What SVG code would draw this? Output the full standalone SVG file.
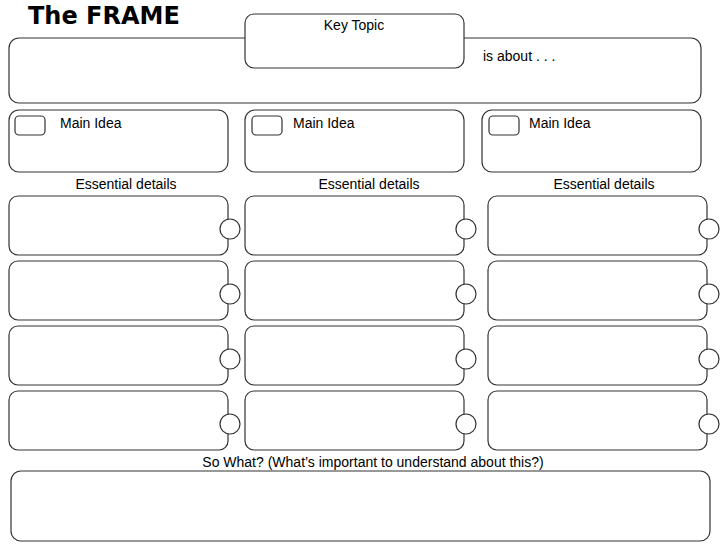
<svg xmlns="http://www.w3.org/2000/svg" width="728" height="546" viewBox="0 0 728 546">
<style>
.b{fill:#fff;stroke:#333;stroke-width:1.2}
.t{font-family:"Liberation Sans",Arial,sans-serif;font-size:14px;fill:#000}
.c{fill:#fff;stroke:#333;stroke-width:1.2}
</style>
<defs>
<g id="det"><rect class="b" x="0" y="0" width="219" height="59" rx="9"/><circle class="c" cx="221" cy="33" r="10"/></g>
</defs>
<rect width="728" height="546" fill="#fff"/>
<text x="28" y="24" font-family="'DejaVu Sans','Liberation Sans',sans-serif" font-weight="bold" font-size="24">The FRAME</text>
<g id="about"><rect class="b" x="9" y="38" width="692" height="65" rx="10"/><text class="t" x="483" y="61">is about . . .</text></g>
<g id="key"><rect class="b" x="245" y="14" width="219" height="54" rx="9"/><text class="t" x="354" y="30" text-anchor="middle">Key Topic</text></g>
<g id="main1"><rect class="b" x="9" y="110" width="219" height="62" rx="10"/><rect class="b" x="15" y="116" width="30" height="19" rx="4"/><text class="t" x="60" y="128">Main Idea</text></g>
<g id="main2"><rect class="b" x="245" y="110" width="219" height="62" rx="10"/><rect class="b" x="252" y="116" width="30" height="19" rx="4"/><text class="t" x="293" y="128">Main Idea</text></g>
<g id="main3"><rect class="b" x="482" y="110" width="219" height="62" rx="10"/><rect class="b" x="489" y="116" width="30" height="19" rx="4"/><text class="t" x="529" y="128">Main Idea</text></g>
<text class="t" x="126" y="189" text-anchor="middle">Essential details</text>
<text class="t" x="369" y="189" text-anchor="middle">Essential details</text>
<text class="t" x="604" y="189" text-anchor="middle">Essential details</text>
<g id="details1"><use href="#det" x="9" y="196"/><use href="#det" x="9" y="261"/><use href="#det" x="9" y="326"/><use href="#det" x="9" y="391"/></g>
<g id="details2"><use href="#det" x="245" y="196"/><use href="#det" x="245" y="261"/><use href="#det" x="245" y="326"/><use href="#det" x="245" y="391"/></g>
<g id="details3"><use href="#det" x="488" y="196"/><use href="#det" x="488" y="261"/><use href="#det" x="488" y="326"/><use href="#det" x="488" y="391"/></g>
<g id="connectors"></g>
<g id="sowhat"><text class="t" x="373" y="467" text-anchor="middle">So What? (What’s important to understand about this?)</text><rect class="b" x="11" y="471" width="699" height="70" rx="10"/></g>
</svg>
